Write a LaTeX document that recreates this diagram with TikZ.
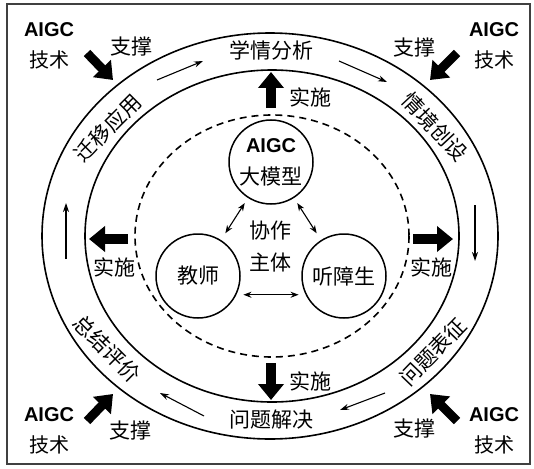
\documentclass[tikz,border=0pt]{standalone}
\usepackage{fontspec}
\setmainfont{Liberation Sans}
\newfontfamily\cjk{Noto Sans CJK SC}
\usetikzlibrary{arrows.meta}

\begin{document}
\begin{tikzpicture}[
  x=1pt, y=-1pt,
  word/.style={font=\cjk\fontsize{21}{24}\selectfont, inner sep=0pt},
  tech/.style={align=center, inner sep=0pt, font=\fontsize{20}{31}\selectfont},
  role/.style={circle, draw, line width=1.5pt, minimum size=84pt, inner sep=0pt,
    align=center, font=\cjk\fontsize{21}{32}\selectfont},
  ring/.style={line width=1.6pt},
  flow/.style={-{Stealth[length=9pt,width=6pt]}, line width=1.1pt},
  act/.style={-{Triangle[length=16pt,width=25pt]}, line width=10pt},
  prop/.style={-{Triangle[length=16pt,width=24pt]}, line width=9pt},
  pair/.style={{Stealth[length=8pt,width=6pt]}-{Stealth[length=8pt,width=6pt]},
    line width=1.1pt}
]
\useasboundingbox (0,0) rectangle (534,468);
\draw[black!75, line width=1.2pt] (7,4) rectangle (530,464);

% rings
\draw[ring] (270,236) ellipse [x radius=228, y radius=203];
\draw[ring] (272,236) ellipse [x radius=187, y radius=166];
\draw[ring, dashed, dash pattern=on 7pt off 5pt] (272,236) ellipse [x radius=137, y radius=121];

% stages
\node[word] (xq) at (271,50) {学情分析};
\node[word, rotate=-47] (qj) at (435,127) {情境创设};
\node[word, rotate=46] (wt) at (433,352) {问题表征};
\node[word] (jj) at (271,420) {问题解决};
\node[word, rotate=-45] (zj) at (107,349) {总结评价};
\node[word, rotate=45] (qy) at (108,128) {迁移应用};

% flow in the ring
\coordinate (f1a) at (157,80);  \coordinate (f1b) at (203,61);
\coordinate (f2a) at (339,61);  \coordinate (f2b) at (387,82);
\coordinate (f3a) at (475,205); \coordinate (f3b) at (475,261);
\coordinate (f4a) at (385,393); \coordinate (f4b) at (340,410);
\coordinate (f5a) at (204,416); \coordinate (f5b) at (160,393);
\coordinate (f6a) at (66,259);  \coordinate (f6b) at (66,203);
\foreach \i in {1,...,6}
  \draw[flow] (f\i a) -- (f\i b);

% subjects
\node[role] (model) at (271,162) {{\rmfamily\bfseries\fontsize{20}{24}\selectfont AIGC}\\大模型};
\node[role] (teacher) at (198,276) {教师};
\node[role] (student) at (344,276) {听障生};
\node[word, align=center, font=\cjk\fontsize{21}{32}\selectfont] (main) at (270,246) {协作\\主体};

\draw[pair, shorten <=6pt, shorten >=8pt] (model) -- (teacher);
\draw[pair, shorten <=6pt, shorten >=8pt] (model) -- (student);
\draw[pair, shorten <=7pt, shorten >=7pt] (teacher.-26) -- (student.206);

% implement
\coordinate (a1a) at (271,108); \coordinate (a1b) at (271,72);
\coordinate (a2a) at (128,239); \coordinate (a2b) at (89,239);
\coordinate (a3a) at (413,239); \coordinate (a3b) at (453,239);
\coordinate (a4a) at (271,363); \coordinate (a4b) at (271,400);
\foreach \i in {1,...,4}
  \draw[act] (a\i a) -- (a\i b);
\node[word] (ss1) at (310,97) {实施};
\node[word] (ss2) at (114,267) {实施};
\node[word] (ss3) at (431,267) {实施};
\node[word] (ss4) at (310,381) {实施};

% AIGC support
\node[tech] (t1) at (49,46) {\bfseries AIGC\\\cjk 技术};
\node[tech] (t2) at (494,46) {\bfseries AIGC\\\cjk 技术};
\node[tech] (t3) at (49,431) {\bfseries AIGC\\\cjk 技术};
\node[tech] (t4) at (494,431) {\bfseries AIGC\\\cjk 技术};
\node[word] (zc1) at (131,47) {支撑};
\node[word] (zc2) at (414,48) {支撑};
\node[word] (zc3) at (130,431) {支撑};
\node[word] (zc4) at (414,429) {支撑};
\coordinate (s1a) at (87,53);  \coordinate (s1b) at (113,80);
\coordinate (s2a) at (457,53); \coordinate (s2b) at (430,80);
\coordinate (s3a) at (87,421); \coordinate (s3b) at (113,394);
\coordinate (s4a) at (457,421); \coordinate (s4b) at (430,394);
\foreach \i in {1,...,4}
  \draw[prop] (s\i a) -- (s\i b);
\end{tikzpicture}
\end{document}
